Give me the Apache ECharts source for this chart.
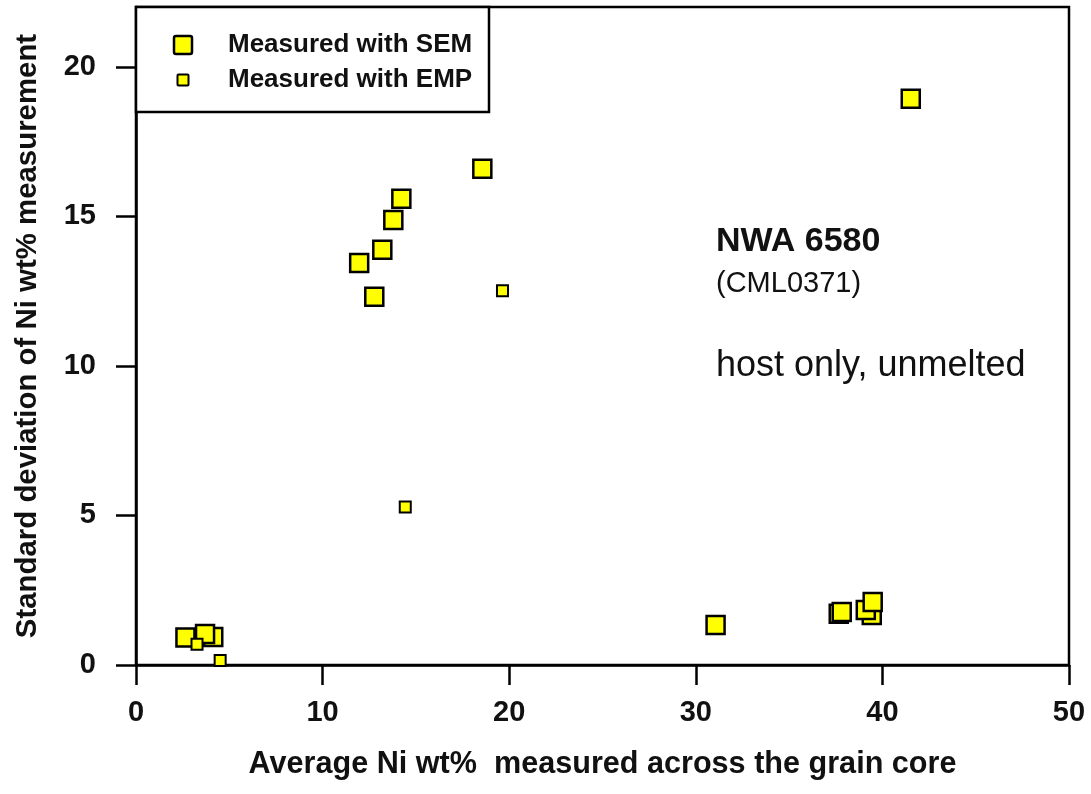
<!DOCTYPE html>
<html>
<head>
<meta charset="utf-8">
<script src="https://cdn.jsdelivr.net/npm/echarts@6/dist/echarts.min.js"></script>
<style>html,body{margin:0;padding:0;background:#fff}#c{width:1091px;height:794px}</style>
</head>
<body>
<div id="c"></div>
<script>
// Data
const semX = [4.14, 2.65, 3.70, 11.96, 12.77, 13.20, 13.79, 14.22, 18.56, 31.06, 37.66, 37.82, 39.43, 39.11, 39.48, 41.52];
const semY = [0.94, 0.92, 1.04, 13.44, 12.31, 13.88, 14.88, 15.59, 16.59, 1.34, 1.71, 1.77, 1.67, 1.84, 2.11, 18.93];
const empX = [3.27, 4.51, 14.43, 19.64];
const empY = [0.69, 0.15, 5.28, 12.51];
const xTicks = [0, 10, 20, 30, 40, 50];
const yTicks = [0, 5, 10, 15, 20];
const seriesNames = ['Measured with SEM', 'Measured with EMP'];
const xTitle = 'Average Ni wt%  measured across the grain core';
const yTitle = 'Standard deviation of Ni wt% measurement';
const noteLines = ['NWA 6580', '(CML0371)', 'host only, unmelted'];

const sans = "'Liberation Sans', Arial, sans-serif";

const chart = echarts.init(document.getElementById('c'), null, {renderer: 'canvas'});
const axisCommon = {
  axisLine: {show: true, lineStyle: {color: '#000', width: 2.5}},
  axisTick: {show: true, inside: false, length: 20, lineStyle: {color: '#000', width: 2.5}},
  splitLine: {show: false},
  nameTextStyle: {fontFamily: sans, fontWeight: 'bold', fontSize: 30.6, color: '#111'},
  axisLabel: {fontFamily: sans, fontWeight: 'bold', fontSize: 29, color: '#111'}
};
chart.setOption({
  animation: false,
  backgroundColor: '#fff',
  grid: {left: 136, right: 22, top: 7, bottom: 129, outerBoundsMode: 'none', containLabel: false,
         show: true, borderColor: '#000', borderWidth: 2.5, backgroundColor: 'transparent'},
  xAxis: Object.assign({}, axisCommon, {
    type: 'value', min: 0, max: 50, interval: 10,
    name: xTitle, nameLocation: 'middle', nameGap: 84,
    axisTick: Object.assign({}, axisCommon.axisTick, {customValues: xTicks}),
    axisLabel: Object.assign({}, axisCommon.axisLabel, {margin: 33, customValues: xTicks})
  }),
  yAxis: Object.assign({}, axisCommon, {
    type: 'value', min: 0, max: 22, interval: 5,
    name: yTitle, nameLocation: 'middle', nameGap: 94,
    nameTextStyle: Object.assign({}, axisCommon.nameTextStyle, {fontSize: 29.4}),
    axisTick: Object.assign({}, axisCommon.axisTick, {customValues: yTicks}),
    axisLabel: Object.assign({}, axisCommon.axisLabel, {margin: 40, customValues: yTicks})
  }),
  series: [
    {name: seriesNames[0], type: 'scatter', symbol: 'rect', symbolSize: 18,
     itemStyle: {color: '#ffff00', borderColor: '#000', borderWidth: 2.5, opacity: 1},
     data: semX.map((x, i) => [x, semY[i]]), z: 3},
    {name: seriesNames[1], type: 'scatter', symbol: 'rect', symbolSize: 11,
     itemStyle: {color: '#ffff00', borderColor: '#000', borderWidth: 2, opacity: 1},
     data: empX.map((x, i) => [x, empY[i]]), z: 4}
  ],
  graphic: [
    {type: 'rect', z: 100, shape: {x: 136, y: 7, width: 353, height: 105},
     style: {fill: '#fff', stroke: '#000', lineWidth: 2.5}},
    {type: 'rect', z: 101, shape: {x: 174, y: 36, width: 18, height: 18, r: 2},
     style: {fill: '#ffff00', stroke: '#000', lineWidth: 2.5}},
    {type: 'rect', z: 101, shape: {x: 177.5, y: 74.5, width: 11, height: 11, r: 1},
     style: {fill: '#ffff00', stroke: '#000', lineWidth: 2}},
    {type: 'text', z: 101, x: 228, y: 45,
     style: {text: seriesNames[0], font: "bold 26px " + sans, fill: '#111', verticalAlign: 'middle'}},
    {type: 'text', z: 101, x: 228, y: 80,
     style: {text: seriesNames[1], font: "bold 26px " + sans, fill: '#111', verticalAlign: 'middle'}},
    {type: 'text', z: 101, x: 716, y: 242,
     style: {text: noteLines[0], font: "bold 34px " + sans, fill: '#111', verticalAlign: 'middle'}},
    {type: 'text', z: 101, x: 716, y: 284,
     style: {text: noteLines[1], font: "29px " + sans, fill: '#111', verticalAlign: 'middle'}},
    {type: 'text', z: 101, x: 716, y: 366,
     style: {text: noteLines[2], font: "36px " + sans, fill: '#111', verticalAlign: 'middle'}}
  ]
});
</script>
</body>
</html>
